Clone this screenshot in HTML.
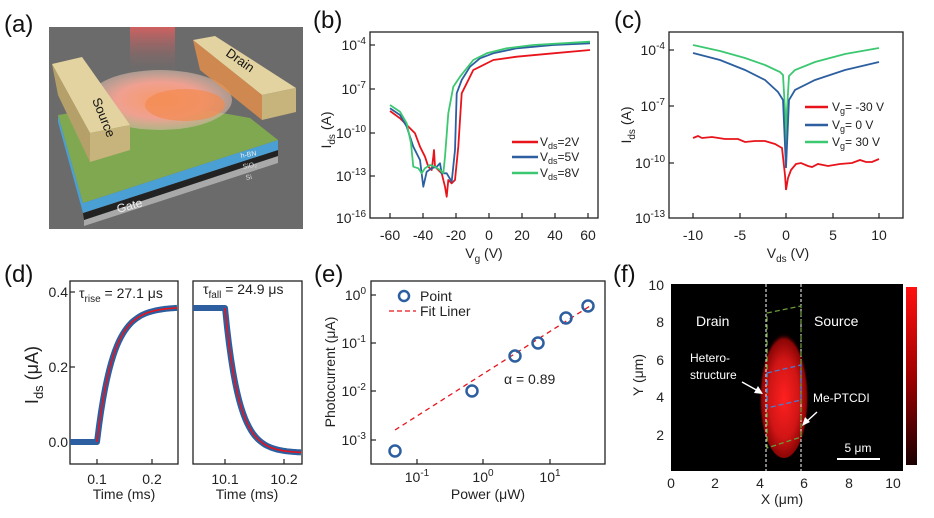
<!DOCTYPE html>
<html><head><meta charset="utf-8"><style>
html,body{margin:0;padding:0;background:#fff}
svg{display:block;font-family:"Liberation Sans",sans-serif}
.t{font-size:14px;fill:#222}
.p{font-size:24px;fill:#111}
.ax{fill:none;stroke:#222;stroke-width:1.3}
.tk{stroke:#222;stroke-width:1.2}
</style></head><body>
<svg id="s" width="934" height="518" viewBox="0 0 934 518" xmlns="http://www.w3.org/2000/svg">
<defs>
<radialGradient id="blob" cx="0.5" cy="0.55" r="0.5">
<stop offset="0" stop-color="#ff2020"/><stop offset="0.6" stop-color="#d01515"/><stop offset="0.9" stop-color="#8a0505"/><stop offset="1" stop-color="#000" stop-opacity="0"/>
</radialGradient>
<linearGradient id="cb" x1="0" y1="0" x2="0" y2="1">
<stop offset="0" stop-color="#ff1010"/><stop offset="0.5" stop-color="#a00000"/><stop offset="1" stop-color="#1a0000"/>
</linearGradient>
<linearGradient id="beam" x1="0" y1="0" x2="0" y2="1">
<stop offset="0" stop-color="#d06060"/><stop offset="1" stop-color="#6b6b6b" stop-opacity="0"/>
</linearGradient>
<radialGradient id="mol" cx="0.5" cy="0.5" r="0.5">
<stop offset="0" stop-color="#f79a6a"/><stop offset="0.6" stop-color="#f0a090"/><stop offset="1" stop-color="#d8b8a8" stop-opacity="0.6"/>
</radialGradient>
</defs>

<!-- (a) -->
<text class="p" x="4" y="32">(a)</text>
<rect x="49" y="27" width="254" height="202" fill="#6b6b6b"/>
<rect x="130" y="27" width="45" height="50" fill="url(#beam)"/>
<polygon points="84,220 278,156 278,163 84,226" fill="#a9a9a9"/>
<polygon points="83,213 278,150 278,156 84,220" fill="#222"/>
<polygon points="58,115 83,203 278,140 278,150 83,213 58,122" fill="#4a9fd4"/>
<polygon points="58,115 83,203 278,140 250,118 150,100" fill="#7fa850"/>
<ellipse cx="160" cy="100" rx="72" ry="30" fill="url(#mol)"/>
<ellipse cx="185" cy="105" rx="40" ry="16" fill="#f48a50" opacity="0.7"/>
<polygon points="52,64 82,57 130,125 90,133" fill="#e3d3a0"/>
<polygon points="90,133 130,125 130,150 90,162" fill="#c7b37c"/>
<polygon points="52,64 90,133 90,162 58,95" fill="#b6a06a"/>
<polygon points="193,40 215,36 296,88 262,95" fill="#e3d3a0"/>
<polygon points="262,95 296,88 296,112 262,120" fill="#c7b37c"/>
<polygon points="193,40 262,95 262,120 200,70" fill="#e8904a" opacity="0.8"/>
<text x="92" y="100" font-size="13" transform="rotate(68 92 100)" fill="#111">Source</text>
<text x="225" y="55" font-size="13" transform="rotate(35 225 55)" fill="#111">Drain</text>
<text x="241" y="158" font-size="7" fill="#eee" transform="rotate(-10 241 158)">h-BN</text>
<text x="243" y="169" font-size="7" fill="#ddd" transform="rotate(-10 243 169)">SiO₂</text>
<text x="246" y="180" font-size="7" fill="#ddd" transform="rotate(-10 246 180)">Si</text>
<text x="118" y="213" font-size="12" fill="#eee" transform="rotate(-15 118 213)">Gate</text>

<!-- (b) -->
<text class="p" x="313" y="28">(b)</text>
<rect class="ax" x="370" y="32" width="228" height="186"/>
<g class="tk">
<line x1="370" y1="45" x2="375" y2="45"/><line x1="370" y1="89" x2="375" y2="89"/><line x1="370" y1="133" x2="375" y2="133"/><line x1="370" y1="176" x2="375" y2="176"/>
<line x1="390" y1="218" x2="390" y2="213"/><line x1="423" y1="218" x2="423" y2="213"/><line x1="456" y1="218" x2="456" y2="213"/><line x1="489" y1="218" x2="489" y2="213"/><line x1="522" y1="218" x2="522" y2="213"/><line x1="555" y1="218" x2="555" y2="213"/><line x1="588" y1="218" x2="588" y2="213"/>
</g>
<g class="t" text-anchor="end">
<text x="366" y="50">10<tspan dy="-6" font-size="10">-4</tspan></text>
<text x="366" y="94">10<tspan dy="-6" font-size="10">-7</tspan></text>
<text x="366" y="138">10<tspan dy="-6" font-size="10">-10</tspan></text>
<text x="366" y="181">10<tspan dy="-6" font-size="10">-13</tspan></text>
<text x="366" y="223">10<tspan dy="-6" font-size="10">-16</tspan></text>
</g>
<g class="t" text-anchor="middle">
<text x="390" y="240">-60</text><text x="423" y="240">-40</text><text x="456" y="240">-20</text><text x="489" y="240">0</text><text x="522" y="240">20</text><text x="555" y="240">40</text><text x="588" y="240">60</text>
<text x="484" y="258">V<tspan dy="4" font-size="10">g</tspan><tspan dy="-4"> (V)</tspan></text>
</g>
<text class="t" x="331" y="130" transform="rotate(-90 331 130)" text-anchor="middle">I<tspan dy="4" font-size="10">ds</tspan><tspan dy="-4"> (A)</tspan></text>
<g id="bcurves" fill="none" stroke-width="1.6"></g>
<g class="t" font-size="12">
<line x1="512" y1="142" x2="538" y2="142" stroke="#e8141c" stroke-width="2.5"/><text x="540" y="146" font-size="12">V<tspan dy="3" font-size="9">ds</tspan><tspan dy="-3">=2V</tspan></text>
<line x1="512" y1="157" x2="538" y2="157" stroke="#2d5fa0" stroke-width="2.5"/><text x="540" y="161" font-size="12">V<tspan dy="3" font-size="9">ds</tspan><tspan dy="-3">=5V</tspan></text>
<line x1="512" y1="173" x2="538" y2="173" stroke="#3cc870" stroke-width="2.5"/><text x="540" y="177" font-size="12">V<tspan dy="3" font-size="9">ds</tspan><tspan dy="-3">=8V</tspan></text>
</g>

<!-- (c) -->
<text class="p" x="614" y="28">(c)</text>
<rect class="ax" x="669" y="32" width="234" height="186"/>
<g class="tk">
<line x1="669" y1="50" x2="674" y2="50"/><line x1="669" y1="106" x2="674" y2="106"/><line x1="669" y1="163" x2="674" y2="163"/>
<line x1="693" y1="218" x2="693" y2="213"/><line x1="740" y1="218" x2="740" y2="213"/><line x1="786" y1="218" x2="786" y2="213"/><line x1="833" y1="218" x2="833" y2="213"/><line x1="879" y1="218" x2="879" y2="213"/>
</g>
<g class="t" text-anchor="end">
<text x="665" y="55">10<tspan dy="-6" font-size="10">-4</tspan></text>
<text x="665" y="111">10<tspan dy="-6" font-size="10">-7</tspan></text>
<text x="665" y="168">10<tspan dy="-6" font-size="10">-10</tspan></text>
<text x="665" y="223">10<tspan dy="-6" font-size="10">-13</tspan></text>
</g>
<g class="t" text-anchor="middle">
<text x="693" y="240">-10</text><text x="740" y="240">-5</text><text x="786" y="240">0</text><text x="833" y="240">5</text><text x="879" y="240">10</text>
<text x="788" y="258">V<tspan dy="4" font-size="10">ds</tspan><tspan dy="-4"> (V)</tspan></text>
</g>
<text class="t" x="631" y="125" transform="rotate(-90 631 125)" text-anchor="middle">I<tspan dy="4" font-size="10">ds</tspan><tspan dy="-4"> (A)</tspan></text>
<g fill="none" stroke-width="1.8">
<path stroke="#3cc870" d="M693,45 L720,51 L745,58 L765,65 L780,72 L783,75 L785,110 L786,165 L787,110 L789,76 L795,70 L815,62 L845,54 L879,48"/>
<path stroke="#2d5fa0" d="M693,53 L720,60 L745,70 L765,80 L778,92 L783,100 L786,168 L789,100 L795,90 L815,80 L845,70 L879,62"/>
<path stroke="#e8141c" d="M693,138 L698,136 L702,138 L712,137 L725,139 L738,139 L745,142 L755,141 L765,141 L775,144 L782,148 L785,175 L786,190 L788,178 L791,170 L796,164 L801,163 L808,166 L812,167 L818,164 L828,166 L840,164 L852,163 L860,160 L866,162 L872,162 L879,159"/>
</g>
<g class="t">
<line x1="805" y1="107" x2="828" y2="107" stroke="#e8141c" stroke-width="2.5"/><text x="832" y="111" font-size="12">V<tspan dy="3" font-size="9">g</tspan><tspan dy="-3">= -30 V</tspan></text>
<line x1="805" y1="125" x2="828" y2="125" stroke="#2d5fa0" stroke-width="2.5"/><text x="832" y="129" font-size="12">V<tspan dy="3" font-size="9">g</tspan><tspan dy="-3">= 0 V</tspan></text>
<line x1="805" y1="142" x2="828" y2="142" stroke="#3cc870" stroke-width="2.5"/><text x="832" y="146" font-size="12">V<tspan dy="3" font-size="9">g</tspan><tspan dy="-3">= 30 V</tspan></text>
</g>

<!-- (d) -->
<text class="p" x="4" y="282">(d)</text>
<rect class="ax" x="70" y="281" width="108" height="183"/>
<rect class="ax" x="193" y="281" width="109" height="183"/>
<g class="tk">
<line x1="70" y1="292" x2="75" y2="292"/><line x1="70" y1="367" x2="75" y2="367"/><line x1="70" y1="442" x2="75" y2="442"/>
<line x1="97" y1="464" x2="97" y2="459"/><line x1="152" y1="464" x2="152" y2="459"/>
<line x1="225" y1="464" x2="225" y2="459"/><line x1="284" y1="464" x2="284" y2="459"/>
</g>
<g class="t" text-anchor="end">
<text x="68" y="297">0.4</text><text x="68" y="372">0.2</text><text x="68" y="447">0.0</text>
</g>
<g class="t" text-anchor="middle">
<text x="97" y="484">0.1</text><text x="152" y="484">0.2</text>
<text x="124" y="499">Time (ms)</text>
<text x="225" y="484">10.1</text><text x="284" y="484">10.2</text>
<text x="247" y="499">Time (ms)</text>
</g>
<text x="38" y="375" font-size="18" fill="#222" transform="rotate(-90 38 375)" text-anchor="middle">I<tspan dy="5" font-size="13">ds</tspan><tspan dy="-5"> (μA)</tspan></text>
<text class="t" x="79" y="298">τ<tspan dy="4" font-size="10">rise</tspan><tspan dy="-4"> = 27.1 μs</tspan></text>
<text class="t" x="203" y="294">τ<tspan dy="4" font-size="10">fall</tspan><tspan dy="-4"> = 24.9 μs</tspan></text>
<g id="dcurves" fill="none"></g>

<!-- (e) -->
<text class="p" x="314" y="282">(e)</text>
<rect class="ax" x="371" y="281" width="234" height="183"/>
<g class="tk">
<line x1="371" y1="295" x2="376" y2="295"/><line x1="371" y1="343" x2="376" y2="343"/><line x1="371" y1="391" x2="376" y2="391"/><line x1="371" y1="440" x2="376" y2="440"/>
<line x1="417" y1="464" x2="417" y2="459"/><line x1="483" y1="464" x2="483" y2="459"/><line x1="550" y1="464" x2="550" y2="459"/>
</g>
<g class="t" text-anchor="end">
<text x="366" y="300">10<tspan dy="-6" font-size="10">0</tspan></text>
<text x="366" y="348">10<tspan dy="-6" font-size="10">-1</tspan></text>
<text x="366" y="396">10<tspan dy="-6" font-size="10">-2</tspan></text>
<text x="366" y="445">10<tspan dy="-6" font-size="10">-3</tspan></text>
</g>
<g class="t" text-anchor="middle">
<text x="417" y="482">10<tspan dy="-6" font-size="10">-1</tspan></text>
<text x="483" y="482">10<tspan dy="-6" font-size="10">0</tspan></text>
<text x="550" y="482">10<tspan dy="-6" font-size="10">1</tspan></text>
<text x="488" y="499">Power (μW)</text>
</g>
<text class="t" x="335" y="372" transform="rotate(-90 335 372)" text-anchor="middle">Photocurrent (μA)</text>
<line x1="395" y1="430" x2="590" y2="306" stroke="#e8141c" stroke-width="1.3" stroke-dasharray="5,4"/>
<g fill="none" stroke="#2d5fa0" stroke-width="2.5">
<circle cx="395" cy="451" r="5.5"/><circle cx="472" cy="391" r="5.5"/><circle cx="515" cy="356" r="5.5"/><circle cx="538" cy="343" r="5.5"/><circle cx="566" cy="318" r="5.5"/><circle cx="588" cy="306" r="5.5"/>
<circle cx="404" cy="296" r="5"/>
</g>
<line x1="389" y1="311" x2="416" y2="311" stroke="#e8141c" stroke-width="1.3" stroke-dasharray="5,3"/>
<text class="t" x="420" y="301" font-size="12">Point</text>
<text class="t" x="420" y="316" font-size="12">Fit Liner</text>
<text class="t" x="504" y="384" font-size="12">α = 0.89</text>

<!-- (f) -->
<text class="p" x="613" y="282">(f)</text>
<rect x="671" y="284" width="232" height="187" fill="#000"/>
<ellipse cx="784" cy="392" rx="25" ry="66" fill="url(#blob)"/>
<line x1="766" y1="284" x2="766" y2="471" stroke="#fff" stroke-width="1" stroke-dasharray="3,2"/>
<line x1="801" y1="284" x2="801" y2="471" stroke="#fff" stroke-width="1" stroke-dasharray="3,2"/>
<polygon points="767,313 801,306 801,437 767,448" fill="none" stroke="#6a9a3a" stroke-width="1.3" stroke-dasharray="5,3"/>
<polygon points="767,373 801,365 801,400 767,408" fill="none" stroke="#4a7ad0" stroke-width="1.3" stroke-dasharray="5,3"/>
<text x="696" y="326" font-size="14" fill="#fff">Drain</text>
<text x="814" y="326" font-size="14" fill="#fff">Source</text>
<text x="690" y="362" font-size="12" fill="#fff">Hetero-</text>
<text x="690" y="379" font-size="12" fill="#fff">structure</text>
<text x="813" y="402" font-size="12" fill="#fff">Me-PTCDI</text>
<line x1="742" y1="382" x2="760" y2="392" stroke="#fff" stroke-width="1.5"/><polygon points="763,394 754,393 758,386" fill="#fff"/>
<line x1="817" y1="412" x2="805" y2="423" stroke="#fff" stroke-width="1.5"/><polygon points="802,426 805,417 810,422" fill="#fff"/>
<line x1="837" y1="459" x2="880" y2="459" stroke="#fff" stroke-width="2"/>
<text x="858" y="452" font-size="12" fill="#fff" text-anchor="middle">5 μm</text>
<rect x="906" y="287" width="11" height="178" fill="url(#cb)"/>
<g class="t" text-anchor="end">
<text x="664" y="290">10</text><text x="664" y="327">8</text><text x="664" y="365">6</text><text x="664" y="402">4</text><text x="664" y="440">2</text>
</g>
<g class="t" text-anchor="middle">
<text x="671" y="488">0</text><text x="715" y="488">2</text><text x="760" y="488">4</text><text x="804" y="488">6</text><text x="849" y="488">8</text><text x="893" y="488">10</text>
<text x="782" y="504">X (μm)</text>
</g>
<text class="t" x="643" y="375" transform="rotate(-90 643 375)" text-anchor="middle">Y (μm)</text>
</svg>
<script>
(function(){
var NS="http://www.w3.org/2000/svg";
function pth(g,d,c,w){var p=document.createElementNS(NS,"path");p.setAttribute("d",d);p.setAttribute("stroke",c);p.setAttribute("stroke-width",w);p.setAttribute("fill","none");p.setAttribute("stroke-linejoin","round");g.appendChild(p);}
function conv(a){var s="";for(var i=0;i<a.length;i+=2){s+=(i?"L":"M")+(300+a[i]/3).toFixed(1)+","+(a[i+1]/3).toFixed(1);}return s;}
var b=document.getElementById("bcurves");
pth(b,conv([270,333,300,355,330,385,345,400,360,440,375,470,385,500,395,510,400,470,402,450,405,500,415,510,425,520,435,560,440,590,445,540,455,550,465,540,475,440,485,280,500,250,520,210,540,200,580,180,650,170,760,160,870,150]),"#e8141c",1.8);
pth(b,conv([270,325,300,345,320,380,340,440,360,480,370,560,380,515,395,505,410,500,420,490,425,520,440,520,455,545,465,450,470,280,485,240,510,200,540,175,580,160,650,145,760,135,870,130]),"#2d5fa0",1.8);
pth(b,conv([270,315,300,335,320,370,333,430,340,500,355,505,365,520,375,505,390,495,405,500,420,510,430,520,435,470,445,340,460,260,480,230,520,180,560,160,620,145,700,135,870,125]),"#3cc870",1.8);
var d=document.getElementById("dcurves");
var s1="M70,442L97,442",s2="M97,442";
for(var x=97;x<=178;x+=2){var y=442-135*(1-Math.exp(-(x-97)/16));s1+="L"+x+","+y.toFixed(1);s2+="L"+x+","+y.toFixed(1);}
pth(d,s1,"#2d5fa0",6);pth(d,s2,"#e8141c",1.6);
var s3="M193,308L225,308",s4="M225,308";
for(var x=225;x<=302;x+=2){var y=453-145*Math.exp(-(x-225)/14);s3+="L"+x+","+y.toFixed(1);s4+="L"+x+","+y.toFixed(1);}
pth(d,s3,"#2d5fa0",6);pth(d,s4,"#e8141c",1.6);
})();
</script>
</body></html>
